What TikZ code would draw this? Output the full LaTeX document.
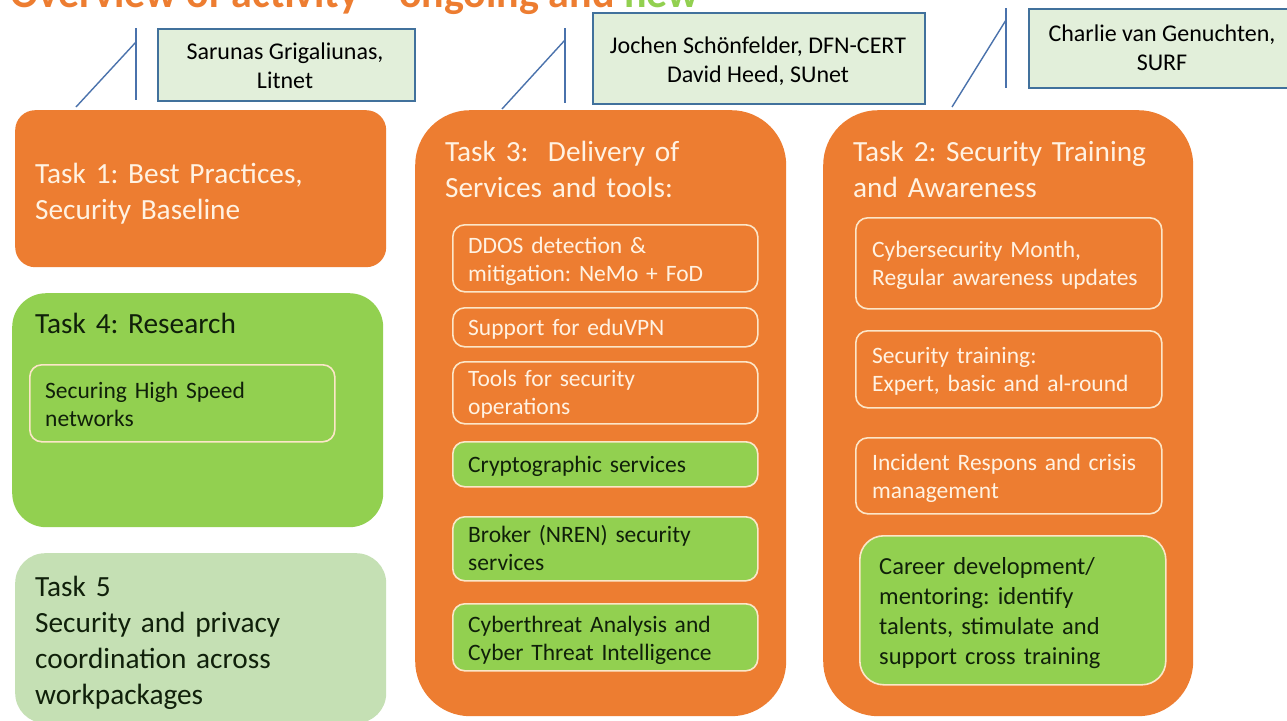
\documentclass[tikz,border=0pt]{standalone}
\usepackage{fontspec}
\setmainfont{Carlito}
\frenchspacing
\definecolor{orng}{HTML}{ED7D31}
\definecolor{grn}{HTML}{92D050}
\definecolor{lgrn}{HTML}{C5E0B4}
\definecolor{pfill}{HTML}{E2EFDA}
\definecolor{pborder}{HTML}{41719C}
\definecolor{lead}{HTML}{4A72AC}
\definecolor{cream}{HTML}{FFF2E2}
\definecolor{creamline}{HTML}{FCE6C8}
\definecolor{dark}{HTML}{10200A}
\begin{document}
\begin{tikzpicture}[x=1pt,y=-1pt,
  panel/.style={inner sep=0pt, anchor=north west},
  inbox/.style={panel, draw=creamline, line width=1.6pt, rounded corners=12pt},
  person/.style={panel, fill=pfill, draw=pborder, line width=1.6pt},
  leadline/.style={draw=lead, line width=1.4pt},
  txt/.style={inner sep=0pt, anchor=base west, align=left, text width=340pt},
  bigcream/.style={txt, text=cream, font=\fontsize{29.3}{36}\selectfont},
  bigdark/.style={txt, text=dark, font=\fontsize{29.3}{36}\selectfont},
  smallcream/.style={txt, text=cream, font=\fontsize{23.5}{28}\selectfont},
  smalldark/.style={txt, text=dark, font=\fontsize{23.5}{28}\selectfont},
  ptxt/.style={inner sep=0pt, anchor=base, align=center, text=black, font=\fontsize{24}{29}\selectfont}
]
\useasboundingbox (0,0) rectangle (1287,720);
\fill[white] (0,0) rectangle (1287,720);

% title (cut off at top)
\node[inner sep=0pt, anchor=base west, font=\bfseries\fontsize{42}{46}\selectfont] (title) at (10,7)
  {\textcolor{orng}{Overview of activity -- ongoing and} \textcolor{grn}{new}};

% person boxes
\node[person, minimum width=257pt, minimum height=72pt] (p1) at (157,28) {};
\node[ptxt] (p1t) at (285,88) {Sarunas Grigaliunas,\\Litnet};
\node[person, minimum width=332pt, minimum height=91pt] (p3) at (592,12) {};
\node[ptxt] (p3t) at (758,82) {Jochen Schönfelder, DFN-CERT\\David Heed, SUnet};
\node[person, minimum width=270pt, minimum height=79pt] (p2) at (1028,8) {};
\node[ptxt] (p2t) at (1162,70) {Charlie van Genuchten,\\SURF};

% callout leaders
\coordinate (v1a) at (136,28); \coordinate (v1b) at (136,100); \coordinate (v1m) at (136,42); \coordinate (e1) at (76,107);
\coordinate (v3a) at (565,28); \coordinate (v3b) at (565,103); \coordinate (v3m) at (565,40); \coordinate (e3) at (502,109);
\coordinate (v2a) at (1006,8); \coordinate (v2b) at (1006,88); \coordinate (v2m) at (1006,20); \coordinate (e2) at (952,107);
\draw[leadline] (v1a) -- (v1b); \draw[leadline] (v1m) -- (e1);
\draw[leadline] (v3a) -- (v3b); \draw[leadline] (v3m) -- (e3);
\draw[leadline] (v2a) -- (v2b); \draw[leadline] (v2m) -- (e2);

% Task 1
\node[panel, fill=orng, rounded corners=20pt, minimum width=371pt, minimum height=157pt] (t1) at (15,110) {};
\node[bigcream] (t1t) at (35,183) {Task 1: Best Practices,\\Security Baseline};

% Task 4
\node[panel, fill=grn, rounded corners=34pt, minimum width=371pt, minimum height=234pt] (t4) at (12,293) {};
\node[bigdark] (t4t) at (35,333) {Task 4: Research};
\node[inbox, minimum width=305pt, minimum height=77pt] (t4a) at (29,364) {};
\node[smalldark] (t4at) at (45,398) {Securing High Speed\\networks};

% Task 5
\node[panel, fill=lgrn, rounded corners=30pt, minimum width=371pt, minimum height=170pt] (t5) at (15,553) {};
\node[bigdark] (t5t) at (35,596) {Task 5\\Security and privacy\\coordination across\\workpackages};

% Task 3
\node[panel, fill=orng, rounded corners=55pt, minimum width=371pt, minimum height=606pt] (t3) at (415,110) {};
\node[bigcream] (t3t) at (445,161) {Task 3:\ \ Delivery of\\Services and tools:};
\node[inbox, minimum width=305pt, minimum height=67pt] (s1) at (452,224) {};
\node[smallcream] (s1t) at (468,253) {DDOS detection \&\\mitigation: NeMo + FoD};
\node[inbox, minimum width=305pt, minimum height=39pt] (s2) at (452,307) {};
\node[smallcream] (s2t) at (468,335) {Support for eduVPN};
\node[inbox, minimum width=305pt, minimum height=62pt] (s3) at (452,361) {};
\node[smallcream] (s3t) at (468,386) {Tools for security\\operations};
\node[inbox, fill=grn, minimum width=305pt, minimum height=45pt] (s4) at (452,441) {};
\node[smalldark] (s4t) at (468,472) {Cryptographic services};
\node[inbox, fill=grn, minimum width=305pt, minimum height=64pt] (s5) at (452,516) {};
\node[smalldark] (s5t) at (468,542) {Broker (NREN) security\\services};
\node[inbox, fill=grn, minimum width=305pt, minimum height=67pt] (s6) at (452,603) {};
\node[smalldark] (s6t) at (468,632) {Cyberthreat Analysis and\\Cyber Threat Intelligence};

% Task 2
\node[panel, fill=orng, rounded corners=55pt, minimum width=370pt, minimum height=606pt] (t2) at (823,110) {};
\node[bigcream] (t2t) at (853,161) {Task 2: Security Training\\and Awareness};
\node[inbox, minimum width=306pt, minimum height=91pt] (a1) at (855,217) {};
\node[smallcream] (a1t) at (872,257) {Cybersecurity Month,\\Regular awareness updates};
\node[inbox, minimum width=306pt, minimum height=77pt] (a2) at (855,330) {};
\node[smallcream] (a2t) at (872,363) {Security training:\\Expert, basic and al-round};
\node[inbox, minimum width=306pt, minimum height=76pt] (a3) at (855,437) {};
\node[smallcream] (a3t) at (872,470) {Incident Respons and crisis\\management};
\node[inbox, fill=grn, rounded corners=24pt, minimum width=306pt, minimum height=149pt] (a4) at (859,535) {};
\node[txt, text=dark, font=\fontsize{24.5}{30}\selectfont] (a4t) at (879,574) {Career development/\\mentoring: identify\\talents, stimulate and\\support cross training};
\end{tikzpicture}
\end{document}
